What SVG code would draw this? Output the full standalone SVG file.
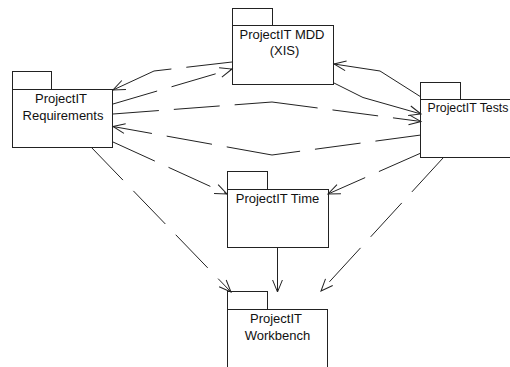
<svg xmlns="http://www.w3.org/2000/svg" width="510" height="367" viewBox="0 0 510 367">
<style>
.box{fill:#fff;stroke:#222;stroke-width:1}
.lbl{font-family:"Liberation Sans",Arial,sans-serif;font-size:13px;fill:#111;text-anchor:middle}
.c{fill:none;stroke:#222;stroke-width:1;marker-end:url(#a)}
.d{stroke-dasharray:46 15}
</style>
<defs>
<marker id="a" markerUnits="userSpaceOnUse" markerWidth="30" markerHeight="30" viewBox="-15 -15 30 30" refX="0" refY="0" orient="auto" overflow="visible">
<path d="M-12,-4.9 L0,0 L-12,4.9" fill="none" stroke="#222" stroke-width="1"/>
</marker>
</defs>
<rect width="510" height="367" fill="#fff"/>
<g id="req">
<rect class="box" x="12.5" y="71.5" width="39" height="18"/>
<rect class="box" x="12.5" y="89.5" width="100" height="58"/>
<text class="lbl" x="61" y="103">ProjectIT</text>
<text class="lbl" x="63" y="120">Requirements</text>
</g>
<g id="mdd">
<rect class="box" x="232.5" y="8.5" width="40" height="17"/>
<rect class="box" x="232.5" y="25.5" width="101" height="59"/>
<text class="lbl" x="282" y="39">ProjectIT MDD</text>
<text class="lbl" x="284.5" y="55">(XIS)</text>
</g>
<g id="tests">
<rect class="box" x="420.5" y="82.5" width="40" height="17"/>
<rect class="box" x="420.5" y="99.5" width="102" height="58"/>
<text class="lbl" x="427.5" y="112" style="text-anchor:start;font-size:12.3px">ProjectIT Tests</text>
</g>
<g id="time">
<rect class="box" x="227.5" y="171.5" width="40" height="18"/>
<rect class="box" x="227.5" y="189.5" width="101" height="58"/>
<text class="lbl" x="277.5" y="203">ProjectIT Time</text>
</g>
<g id="workbench">
<rect class="box" x="227.5" y="291.5" width="40" height="18"/>
<rect class="box" x="227.5" y="309.5" width="100" height="60"/>
<text class="lbl" x="276" y="323">ProjectIT</text>
<text class="lbl" x="277.5" y="339.5">Workbench</text>
</g>
<g id="connectors">
<path class="c d" d="M232,62 L154,71 M154,71 L113,90"/>
<path class="c d" d="M113,104 L232,69"/>
<path class="c d" d="M113,114 L272,102 M272,102 L421,121.5"/>
<path class="c d" d="M421,135 L272,155 M272,155 L113,126.5"/>
<path class="c" d="M334,83 L363,97.5 L421,114"/>
<path class="c" d="M421,97 L380,71 L334,64"/>
<path class="c d" d="M113,142 L227,194"/>
<path class="c d" d="M421,153 L328,194"/>
<path class="c d" d="M91,147 L231,292"/>
<path class="c" d="M277.5,247.5 L277.5,292"/>
<path class="c d" d="M443,158 L321,291"/>
</g>
</svg>
